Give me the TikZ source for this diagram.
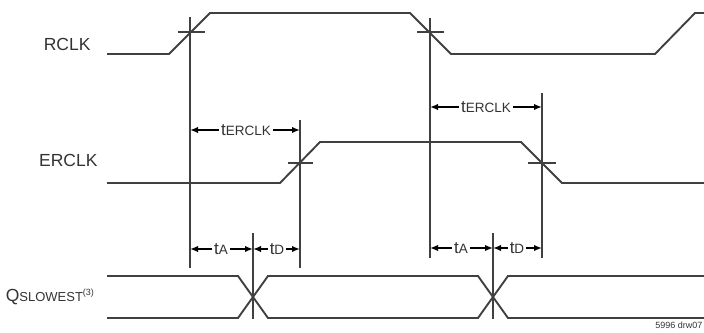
\documentclass[tikz,border=0pt]{standalone}
\usepackage{fontspec}
\setmainfont{Liberation Sans}
\usepackage{tikz}
\usetikzlibrary{calc,arrows.meta}
\definecolor{wavegray}{HTML}{404040}
\definecolor{txtgray}{HTML}{333333}
\newcommand{\tsub}[1]{{\fontsize{17}{17}\selectfont t}{\fontsize{13.5}{13.5}\selectfont #1}}

\begin{document}
\begin{tikzpicture}[x = 1pt, y = -1pt,
  wave/.style = {line width = 1.9pt, draw = wavegray, line join = miter},
  marker/.style = {line width = 1.6pt, draw = wavegray},
  dim/.style = {line width = 1.8pt, draw = black, -{Latex[length = 8pt, width = 6.5pt]}},
  dimlabel/.style = {fill = white, inner sep = 2pt, text = txtgray},
  signame/.style = {anchor = east, text = txtgray, font = \fontsize{17.5}{17.5}\selectfont}]
\useasboundingbox (0, 0) rectangle (704, 332);
%\draw[very thin, color = gray](0, 0) grid [step = 20] (704, 332);
\draw [wave] (107, 54) -- (169, 54) -- (210, 13) -- (410, 13) -- (451, 54) -- (655, 54) -- (695, 13) -- (704, 13);
\draw [wave] (107, 183) -- (280, 183) -- (320, 142) -- (521, 142) -- (562, 183) -- (704, 183);
\draw [wave] (107, 276) -- (238, 276) -- (268, 318) -- (478, 318) -- (508, 276) -- (704, 276);
\draw [wave] (107, 318) -- (238, 318) -- (268, 276) -- (478, 276) -- (508, 318) -- (704, 318);
% reference lines
\coordinate (rise) at (190, 17);
\coordinate (fall) at (430, 18);
\coordinate (erise) at (300, 120);
\coordinate (efall) at (542, 93);
\coordinate (qa) at (253, 233);
\coordinate (qb) at (493, 233);
\draw [marker] (rise) -- (190, 268);
\draw [marker] (fall) -- (430, 258);
\draw [marker] (erise) -- (300, 268);
\draw [marker] (efall) -- (542, 258);
\draw [marker] (qa) -- (253, 319);
\draw [marker] (qb) -- (493, 319);
\draw [marker] (178, 32) -- (205, 32);
\draw [marker] (417, 32) -- (444, 32);
\draw [marker] (288, 163) -- (313, 163);
\draw [marker] (528, 163) -- (556, 163);
% timing labels
\node [dimlabel] (terclka) at (246, 130) {\tsub{ERCLK}};
\node [dimlabel] (terclkb) at (486, 107) {\tsub{ERCLK}};
\node [dimlabel] (taa) at (221, 249) {\tsub{A}};
\node [dimlabel] (tda) at (277, 249) {\tsub{D}};
\node [dimlabel] (tab) at (461, 248) {\tsub{A}};
\node [dimlabel] (tdb) at (517, 248) {\tsub{D}};
\draw [dim] (terclka) -- (terclka -| rise);
\draw [dim] (terclka) -- (terclka -| erise);
\draw [dim] (terclkb) -- (terclkb -| fall);
\draw [dim] (terclkb) -- (terclkb -| efall);
\draw [dim] (taa) -- (taa -| rise);
\draw [dim] (taa) -- (taa -| qa);
\draw [dim] (tda) -- (tda -| qa);
\draw [dim] (tda) -- (tda -| erise);
\draw [dim] (tab) -- (tab -| fall);
\draw [dim] (tab) -- (tab -| qb);
\draw [dim] (tdb) -- (tdb -| qb);
\draw [dim] (tdb) -- (tdb -| efall);
% signal names
\node [signame] (rclk) at (94, 44) {RCLK};
\node [signame] (erclk) at (101, 160) {ERCLK};
\node [signame] (qslow) at (98, 297) {Q{\fontsize{13}{13}\selectfont SLOWEST}\textsuperscript{\fontsize{9}{9}\selectfont (3)}};
\node [anchor = east, text = txtgray, font = \fontsize{9}{9}\selectfont] (drw) at (706, 325) {5996 drw07};
\end{tikzpicture}
\end{document}
